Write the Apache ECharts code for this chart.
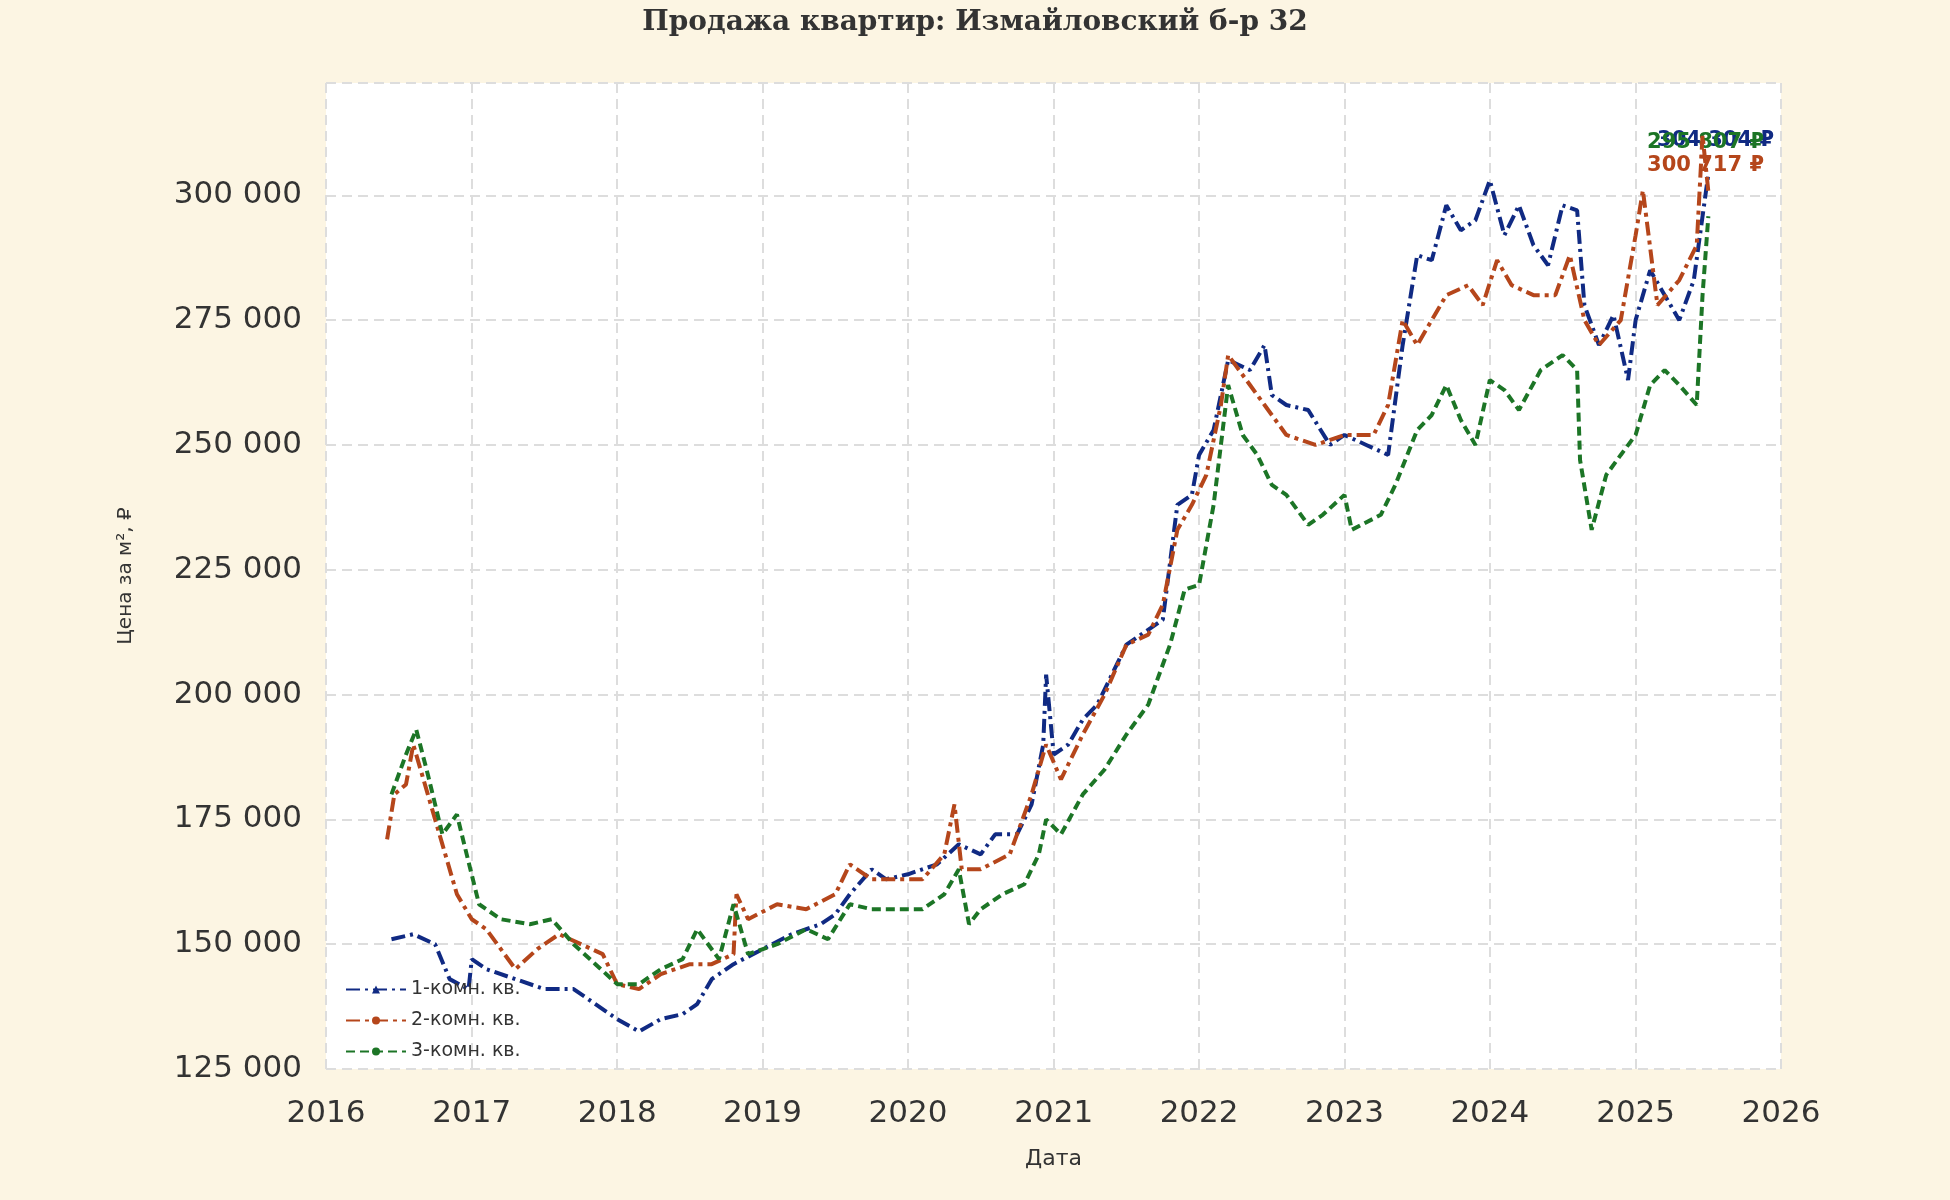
<!DOCTYPE html>
<html><head><meta charset="utf-8">
<script src="https://cdn.jsdelivr.net/npm/echarts@6/dist/echarts.min.js"></script>
<style>html,body{margin:0;background:#fcf5e3}#c{width:1950px;height:1200px}</style>
</head><body><div id="c"></div>
<script>
const seriesNames = ['1-комн. кв.', '2-комн. кв.', '3-комн. кв.'];
const endLabels = ['304 304 ₽', '300 717 ₽', '295 807 ₽'];

const oneYears = [2016.45,2016.6,2016.75,2016.85,2016.98,2017.0,2017.1,2017.3,2017.5,2017.7,2017.85,2018.0,2018.15,2018.3,2018.45,2018.55,2018.65,2018.8,2019.0,2019.2,2019.4,2019.5,2019.6,2019.75,2019.85,2020.0,2020.2,2020.35,2020.5,2020.6,2020.75,2020.85,2020.93,2020.95,2021.0,2021.1,2021.2,2021.3,2021.4,2021.5,2021.6,2021.75,2021.85,2021.95,2022.0,2022.1,2022.2,2022.35,2022.45,2022.5,2022.6,2022.75,2022.9,2023.0,2023.15,2023.3,2023.4,2023.5,2023.6,2023.7,2023.8,2023.9,2024.0,2024.1,2024.2,2024.3,2024.4,2024.5,2024.6,2024.65,2024.75,2024.85,2024.95,2025.0,2025.1,2025.2,2025.3,2025.4,2025.5];
const oneVals = [151000,152000,150000,143000,141000,147000,145000,143000,141000,141000,138000,135000,132500,135000,136000,138000,143000,146000,149000,152000,154000,156000,160000,165000,163000,164000,166000,170000,168000,172000,172000,178000,190000,204000,188000,190000,195000,198000,204000,210000,212000,215000,238000,240000,248000,253000,267000,265000,270000,260000,258000,257000,250000,252000,250000,248000,270000,288000,287000,298000,293000,295000,303000,292000,298000,290000,286000,298000,297000,278000,270000,276000,263000,275000,285000,280000,275000,283000,304304];

const twoYears = [2016.42,2016.47,2016.55,2016.6,2016.7,2016.8,2016.9,2017.0,2017.1,2017.3,2017.45,2017.6,2017.75,2017.9,2018.0,2018.15,2018.3,2018.5,2018.65,2018.8,2018.82,2018.9,2019.1,2019.3,2019.5,2019.6,2019.75,2019.9,2020.1,2020.25,2020.32,2020.37,2020.5,2020.7,2020.85,2020.95,2021.05,2021.2,2021.35,2021.5,2021.65,2021.75,2021.85,2021.95,2022.05,2022.15,2022.2,2022.35,2022.45,2022.6,2022.8,2023.0,2023.2,2023.3,2023.4,2023.5,2023.7,2023.85,2023.95,2024.05,2024.15,2024.3,2024.45,2024.55,2024.65,2024.75,2024.9,2025.0,2025.05,2025.15,2025.3,2025.42,2025.46,2025.5];
const twoVals = [171000,180000,182000,190000,180000,170000,160000,155000,153000,145000,149000,152000,150000,148000,142000,141000,144000,146000,146000,148000,160000,155000,158000,157000,160000,166000,163000,163000,163000,168000,178000,165000,165000,168000,180000,190000,183000,192000,200000,210000,212000,218000,233000,238000,244000,258000,268000,262000,258000,252000,250000,252000,252000,258000,275000,270000,280000,282000,278000,287000,282000,280000,280000,288000,275000,270000,275000,292000,301000,278000,283000,290000,312000,300717];

const threeYears = [2016.45,2016.55,2016.62,2016.7,2016.8,2016.9,2016.95,2017.05,2017.2,2017.4,2017.55,2017.7,2017.85,2018.0,2018.15,2018.3,2018.45,2018.55,2018.7,2018.8,2018.9,2019.1,2019.3,2019.45,2019.6,2019.75,2019.9,2020.1,2020.25,2020.35,2020.42,2020.5,2020.65,2020.8,2020.9,2020.95,2021.05,2021.2,2021.35,2021.5,2021.65,2021.8,2021.9,2022.0,2022.1,2022.2,2022.3,2022.4,2022.5,2022.6,2022.75,2022.85,2023.0,2023.05,2023.25,2023.35,2023.5,2023.6,2023.7,2023.8,2023.9,2024.0,2024.1,2024.2,2024.35,2024.5,2024.6,2024.62,2024.7,2024.8,2024.9,2025.0,2025.1,2025.2,2025.3,2025.42,2025.46,2025.5];
const threeVals = [180000,188000,193000,184000,172000,176000,170000,158000,155000,154000,155000,150000,146000,142000,142000,145000,147000,153000,147000,158000,148000,150000,153000,151000,158000,157000,157000,157000,160000,165000,154000,157000,160000,162000,168000,175000,172000,180000,185000,192000,198000,210000,221000,222000,238000,262000,252000,248000,242000,240000,234000,236000,240000,233000,236000,242000,253000,256000,262000,255000,250000,263000,261000,257000,265000,268000,265000,247000,233000,244000,248000,252000,262000,265000,262000,258000,280000,295807];

function ts(y){const yr=Math.floor(y);return Date.UTC(yr,0,1)+(y-yr)*365.25*86400000;}
function pairs(ys,vs){return ys.map((y,i)=>[ts(y),vs[i]]);}
const colors=['#102a83','#b5461b','#1c7526'];
const dashes=[[14,5,3,5],[14,5,4,5],[9,5]];
const datas=[pairs(oneYears,oneVals),pairs(twoYears,twoVals),pairs(threeYears,threeVals)];
const fmt=v=>String(v).replace(/\B(?=(\d{3})+(?!\d))/g,' ');
const YEAR=365.25*86400000;

const chart=echarts.init(document.getElementById('c'));
chart.setOption({
  backgroundColor:'#fcf5e3',
  animation:false,
  title:{text:'Продажа квартир: Измайловский б-р 32',left:'center',top:4,
    textStyle:{fontFamily:'DejaVu Serif',fontWeight:'bold',fontSize:28,color:'#333'}},
  legend:{orient:'vertical',left:340,top:975,itemWidth:60,itemHeight:10,itemGap:12,
    textStyle:{fontSize:19,color:'#333',fontFamily:'DejaVu Sans'},data:seriesNames},
  grid:{left:326,right:169,top:83,bottom:131,backgroundColor:'#fff',show:true,borderWidth:0},
  xAxis:{type:'time',min:Date.UTC(2016,0,1),max:Date.UTC(2026,0,1),minInterval:YEAR,maxInterval:YEAR,
    axisLine:{show:false},axisTick:{show:false},
    axisLabel:{formatter:'{yyyy}',fontSize:31,color:'#333',fontFamily:'DejaVu Sans',margin:29,showMinLabel:true,showMaxLabel:true},
    splitLine:{show:true,lineStyle:{type:[10,6],color:'#ddd',width:2}},
    name:'Дата',nameLocation:'middle',nameGap:79,nameTextStyle:{fontSize:22,color:'#333',fontFamily:'DejaVu Sans'}},
  yAxis:{type:'value',min:125000,max:322500,interval:25000,
    axisLine:{show:false},axisTick:{show:false},
    axisLabel:{formatter:fmt,fontSize:31,color:'#333',fontFamily:'DejaVu Sans',margin:24,showMaxLabel:false},
    splitLine:{show:true,lineStyle:{type:[10,6],color:'#ddd',width:2}},
    name:'Цена за м², ₽',nameLocation:'middle',nameGap:190,nameRotate:90,nameTextStyle:{fontSize:20,color:'#333',fontFamily:'DejaVu Sans'}},
  series:datas.map((d,i)=>({name:seriesNames[i],type:'line',data:d,showSymbol:false,symbol:i===0?'triangle':'none',
    lineStyle:{color:colors[i],width:4,type:dashes[i]},itemStyle:{color:colors[i]}})),
  graphic:[
    {type:'text',right:176,top:130,style:{text:endLabels[0],fill:colors[0],font:'bold 21px DejaVu Sans'}},
    {type:'text',right:186,top:132,style:{text:endLabels[2],fill:colors[2],font:'bold 21px DejaVu Sans'}},
    {type:'text',right:186,top:155,style:{text:endLabels[1],fill:colors[1],font:'bold 21px DejaVu Sans'}}
  ]
});
</script></body></html>
